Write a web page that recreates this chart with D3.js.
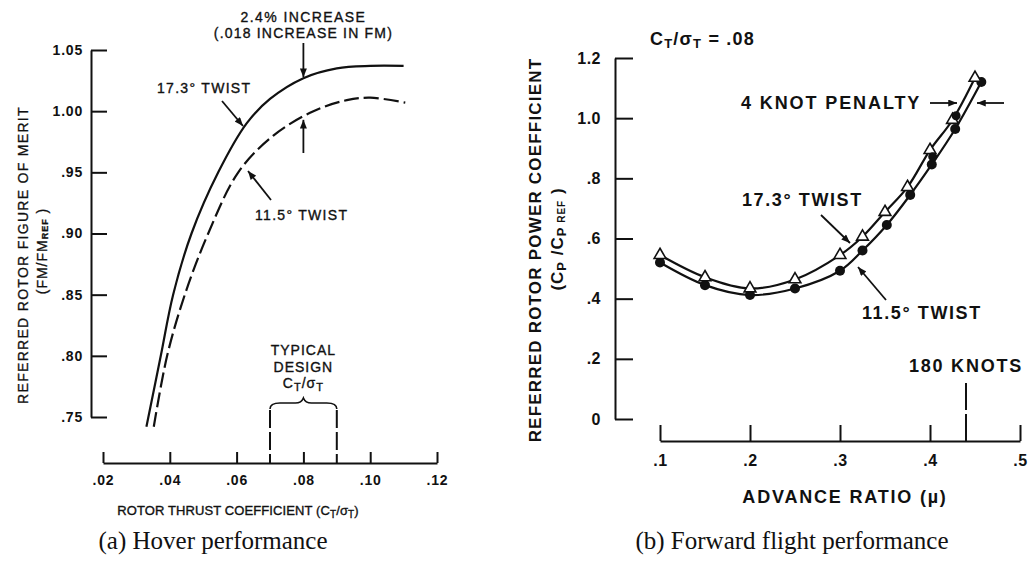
<!DOCTYPE html>
<html>
<head>
<meta charset="utf-8">
<script src="https://cdn.jsdelivr.net/npm/d3@7/dist/d3.min.js"></script>
<style>
  body { margin: 0; background: #fff; }
  svg { display: block; }
  text { fill: #111; }
</style>
</head>
<body>
<svg width="1036" height="563"></svg>
<script>
// ---- (a) hover performance ----
const ctTicks = [0.02, 0.04, 0.06, 0.08, 0.10, 0.12];
const fmTicks = [0.75, 0.80, 0.85, 0.90, 0.95, 1.00, 1.05];
const ct173 = [0.033, 0.0373, 0.0410, 0.0465, 0.0545, 0.063, 0.070, 0.080, 0.090, 0.100, 0.110];
const fm173 = [0.742, 0.800, 0.850, 0.900, 0.950, 0.990, 1.010, 1.027, 1.035, 1.037, 1.037];
const ct115 = [0.0352, 0.0392, 0.0445, 0.0515, 0.0605, 0.071, 0.083, 0.093, 0.100, 0.1105];
const fm115 = [0.742, 0.800, 0.850, 0.900, 0.950, 0.980, 1.000, 1.009, 1.011, 1.007];
const designRange = [0.07, 0.09];
const increaseAt = 0.08;

// ---- (b) forward flight performance ----
const muTicks = [0.1, 0.2, 0.3, 0.4, 0.5];
const cpTicks = [0, 0.2, 0.4, 0.6, 0.8, 1.0, 1.2];
const mu173 = [0.1, 0.15, 0.2, 0.25, 0.3, 0.325, 0.35, 0.375, 0.4, 0.425, 0.45];
const cp173 = [0.545, 0.471, 0.434, 0.464, 0.545, 0.606, 0.688, 0.771, 0.894, 0.994, 1.134];
const mu115 = [0.1, 0.15, 0.2, 0.25, 0.3, 0.325, 0.352, 0.378, 0.402, 0.428, 0.457];
const cp115 = [0.52, 0.445, 0.412, 0.434, 0.493, 0.56, 0.645, 0.745, 0.846, 0.964, 1.12];
// filled points printed over the 17.3° triangles
const muOver = [0.403, 0.429];
const cpOver = [0.872, 1.008];
const mu180 = 0.44;

const svg = d3.select("svg");
const ink = "#111";
const sans = "'Liberation Sans', Arial, sans-serif";
const serif = "'Liberation Serif', 'Times New Roman', serif";

svg.append("defs").append("marker")
  .attr("id", "arr")
  .attr("viewBox", "0 0 10 8")
  .attr("refX", 10).attr("refY", 4)
  .attr("markerWidth", 10).attr("markerHeight", 7)
  .attr("markerUnits", "userSpaceOnUse")
  .attr("orient", "auto")
  .append("path").attr("d", "M0,0L10,4L0,8z").attr("fill", ink);

function arrow(x1, y1, x2, y2) {
  svg.append("line")
    .attr("x1", x1).attr("y1", y1).attr("x2", x2).attr("y2", y2)
    .attr("stroke", ink).attr("stroke-width", 1.8)
    .attr("marker-end", "url(#arr)");
}

function label(x, y, txt, size, weight, spacing, anchor) {
  const t = svg.append("text")
    .attr("x", x).attr("y", y)
    .style("font-family", sans)
    .attr("font-size", size)
    .attr("font-weight", weight || "normal")
    .attr("letter-spacing", spacing || 0)
    .attr("text-anchor", anchor || "start")
    .attr("dominant-baseline", "central")
    .text(txt);
  if (weight !== "bold") t.attr("stroke", ink).attr("stroke-width", 0.35);
  return t;
}

// C_T/σ_T with subscripts
function ctSigma(sel, sub) {
  sel.append("tspan").text("C");
  sel.append("tspan").attr("dy", 4).attr("font-size", sub).text("T");
  sel.append("tspan").attr("dy", -4).text("/σ");
  sel.append("tspan").attr("dy", 4).attr("font-size", sub).text("T");
  return sel;
}

function styleAxis(g, size, spacing) {
  g.attr("font-family", sans).attr("font-size", size).attr("font-weight", "bold");
  g.selectAll("path, line").attr("stroke", ink).attr("stroke-width", 2);
  g.selectAll("text").attr("fill", ink).attr("letter-spacing", spacing || 0);
}

const frac2 = d => d >= 1 ? d.toFixed(2) : d.toFixed(2).replace(/^0/, "");
const frac1 = d => d === 0 ? "0" : d >= 1 ? d.toFixed(1) : d.toFixed(1).replace(/^0/, "");

// ================= left panel =================
const xL = d3.scaleLinear().domain([0.02, 0.12]).range([103, 437]);
const yL = d3.scaleLinear().domain([0.75, 1.05]).range([417, 50]);

svg.append("g").attr("transform", "translate(91,0)")
  .call(d3.axisLeft(yL).tickValues(fmTicks).tickSize(-16).tickSizeOuter(0)
    .tickPadding(8).tickFormat(frac2))
  .call(styleAxis, 14, 0.8);

svg.append("g").attr("transform", "translate(0,463)")
  .call(d3.axisBottom(xL).tickValues(ctTicks).tickSize(-11).tickSizeOuter(0)
    .tickPadding(12).tickFormat(frac2))
  .call(styleAxis, 14, 0.8);

const lineL = d3.line().x(d => xL(d[0])).y(d => yL(d[1])).curve(d3.curveCatmullRom);

svg.append("path").datum(d3.zip(ct173, fm173))
  .attr("d", lineL).attr("fill", "none").attr("stroke", ink).attr("stroke-width", 2.2);
svg.append("path").datum(d3.zip(ct115, fm115))
  .attr("d", lineL).attr("fill", "none").attr("stroke", ink).attr("stroke-width", 2.2)
  .attr("stroke-dasharray", "15,5");

// typical design bracket
designRange.forEach(v => {
  svg.append("line")
    .attr("x1", xL(v)).attr("x2", xL(v)).attr("y1", 410).attr("y2", 463)
    .attr("stroke", ink).attr("stroke-width", 2).attr("stroke-dasharray", "18,4");
});
{
  const x1 = xL(designRange[0]), x2 = xL(designRange[1]), m = (x1 + x2) / 2, y = 403;
  svg.append("path")
    .attr("d", `M${x1},${y + 6}Q${x1},${y} ${x1 + 10},${y}L${m - 8},${y}Q${m - 2},${y} ${m},${y - 5}` +
      `Q${m + 2},${y} ${m + 8},${y}L${x2 - 10},${y}Q${x2},${y} ${x2},${y + 6}`)
    .attr("fill", "none").attr("stroke", ink).attr("stroke-width", 1.6);
  label(m, 350, "TYPICAL", 14, "normal", 1, "middle");
  label(m, 367, "DESIGN", 14, "normal", 1, "middle");
  ctSigma(label(m, 383, "", 14, "normal", 1, "middle"), 11);
}

// annotations
label(xL(increaseAt), 17, "2.4% INCREASE", 14, "normal", 1.4, "middle");
label(xL(increaseAt), 33, "(.018 INCREASE IN FM)", 14, "normal", 1.2, "middle");
arrow(xL(increaseAt), 43, xL(increaseAt), yL(1.027) - 1);
arrow(xL(increaseAt), 153, xL(increaseAt), yL(0.997) + 5);
label(157, 88, "17.3° TWIST", 14, "normal", 1.3);
arrow(222, 101, 243, 126);
label(255, 215, "11.5° TWIST", 14, "normal", 1.3);
arrow(271, 200, 248, 171);

// axis titles
svg.append("text")
  .attr("transform", "translate(23,255) rotate(-90)")
  .attr("text-anchor", "middle").attr("dominant-baseline", "central")
  .style("font-family", sans).attr("font-size", 14).attr("letter-spacing", 1.3)
  .attr("stroke", ink).attr("stroke-width", 0.3)
  .text("REFERRED ROTOR FIGURE OF MERIT");
{
  const t = svg.append("text")
    .attr("transform", "translate(42,251) rotate(-90)")
    .attr("text-anchor", "middle").attr("dominant-baseline", "central")
    .style("font-family", sans).attr("font-size", 14).attr("letter-spacing", 1)
    .attr("stroke", ink).attr("stroke-width", 0.3);
  t.append("tspan").text("(FM/FM");
  t.append("tspan").attr("dy", 3).attr("font-size", 9).attr("font-weight", "bold").text("REF");
  t.append("tspan").attr("dy", -3).text(" )");
}
{
  const t = label(238, 510, "ROTOR THRUST COEFFICIENT (", 13, "normal", 0.1, "middle");
  ctSigma(t, 10);
  t.append("tspan").attr("dy", -4).text(")");
}

// ================= right panel =================
const xR = d3.scaleLinear().domain([0.1, 0.5]).range([660, 1020]);
const yR = d3.scaleLinear().domain([0, 1.2]).range([419, 58]);

svg.append("g").attr("transform", "translate(615,0)")
  .call(d3.axisLeft(yR).tickValues(cpTicks).tickSize(-18).tickSizeOuter(0)
    .tickPadding(14).tickFormat(frac1))
  .call(styleAxis, 16, 0.5);

svg.append("g").attr("transform", "translate(0,441)")
  .call(d3.axisBottom(xR).tickValues(muTicks).tickSize(-16).tickSizeOuter(0)
    .tickPadding(14).tickFormat(frac1))
  .call(styleAxis, 16, 0.5);

const lineR = d3.line().x(d => xR(d[0])).y(d => yR(d[1])).curve(d3.curveCatmullRom);
const d173 = d3.zip(mu173, cp173);
const d115 = d3.zip(mu115, cp115);

svg.append("path").datum(d173).attr("d", lineR)
  .attr("fill", "none").attr("stroke", ink).attr("stroke-width", 2.2);
svg.append("path").datum(d115).attr("d", lineR)
  .attr("fill", "none").attr("stroke", ink).attr("stroke-width", 2.2);

svg.append("g").selectAll("circle").data(d115).join("circle")
  .attr("cx", d => xR(d[0])).attr("cy", d => yR(d[1])).attr("r", 5)
  .attr("fill", ink);

const tri = d3.symbol(d3.symbolTriangle, 60);
svg.append("g").selectAll("path").data(d173).join("path")
  .attr("transform", d => `translate(${xR(d[0])},${yR(d[1])})`)
  .attr("d", tri).attr("fill", "#fff").attr("stroke", ink).attr("stroke-width", 1.6);

svg.append("g").selectAll("circle").data(d3.zip(muOver, cpOver)).join("circle")
  .attr("cx", d => xR(d[0])).attr("cy", d => yR(d[1])).attr("r", 4.5)
  .attr("fill", ink);

// 180 knots marker
svg.append("line")
  .attr("x1", xR(mu180)).attr("x2", xR(mu180)).attr("y1", 383).attr("y2", 441)
  .attr("stroke", ink).attr("stroke-width", 2).attr("stroke-dasharray", "27,4");
label(xR(mu180), 366, "180 KNOTS", 18, "bold", 1.8, "middle");

// annotations
ctSigma(label(650, 39, "", 18, "bold", 1.2), 13)
  .append("tspan").attr("dy", -4).text(" = .08");
label(741, 103, "4 KNOT PENALTY", 18, "bold", 1.9);
arrow(930, 103, 957, 103);
arrow(1004, 103, 977, 103);
label(742, 200, "17.3° TWIST", 18, "bold", 1.6);
arrow(821, 215, 850, 243);
label(862, 313, "11.5° TWIST", 18, "bold", 1.6);
arrow(886, 300, 858, 267);

svg.append("text")
  .attr("transform", "translate(535,250) rotate(-90)")
  .attr("text-anchor", "middle").attr("dominant-baseline", "central")
  .style("font-family", sans)
  .attr("font-size", 17).attr("font-weight", "bold").attr("letter-spacing", 1.2)
  .text("REFERRED ROTOR POWER COEFFICIENT");
{
  const t = svg.append("text")
    .attr("transform", "translate(557,239) rotate(-90)")
    .attr("text-anchor", "middle").attr("dominant-baseline", "central")
    .style("font-family", sans)
    .attr("font-size", 17).attr("font-weight", "bold").attr("letter-spacing", 1);
  t.append("tspan").text("(C");
  t.append("tspan").attr("dy", 4).attr("font-size", 13).text("P");
  t.append("tspan").attr("dy", -4).text(" /C");
  t.append("tspan").attr("dy", 4).attr("font-size", 13).text("P");
  t.append("tspan").attr("font-size", 10).text(" REF");
  t.append("tspan").attr("dy", -4).text(" )");
}
label(845, 497, "ADVANCE RATIO (µ)", 18, "bold", 1.8, "middle");

// captions
svg.append("text").attr("x", 213).attr("y", 549).attr("text-anchor", "middle")
  .style("font-family", serif).attr("font-size", 25)
  .text("(a) Hover performance");
svg.append("text").attr("x", 792).attr("y", 549).attr("text-anchor", "middle")
  .style("font-family", serif).attr("font-size", 25)
  .text("(b) Forward flight performance");
</script>
</body>
</html>
